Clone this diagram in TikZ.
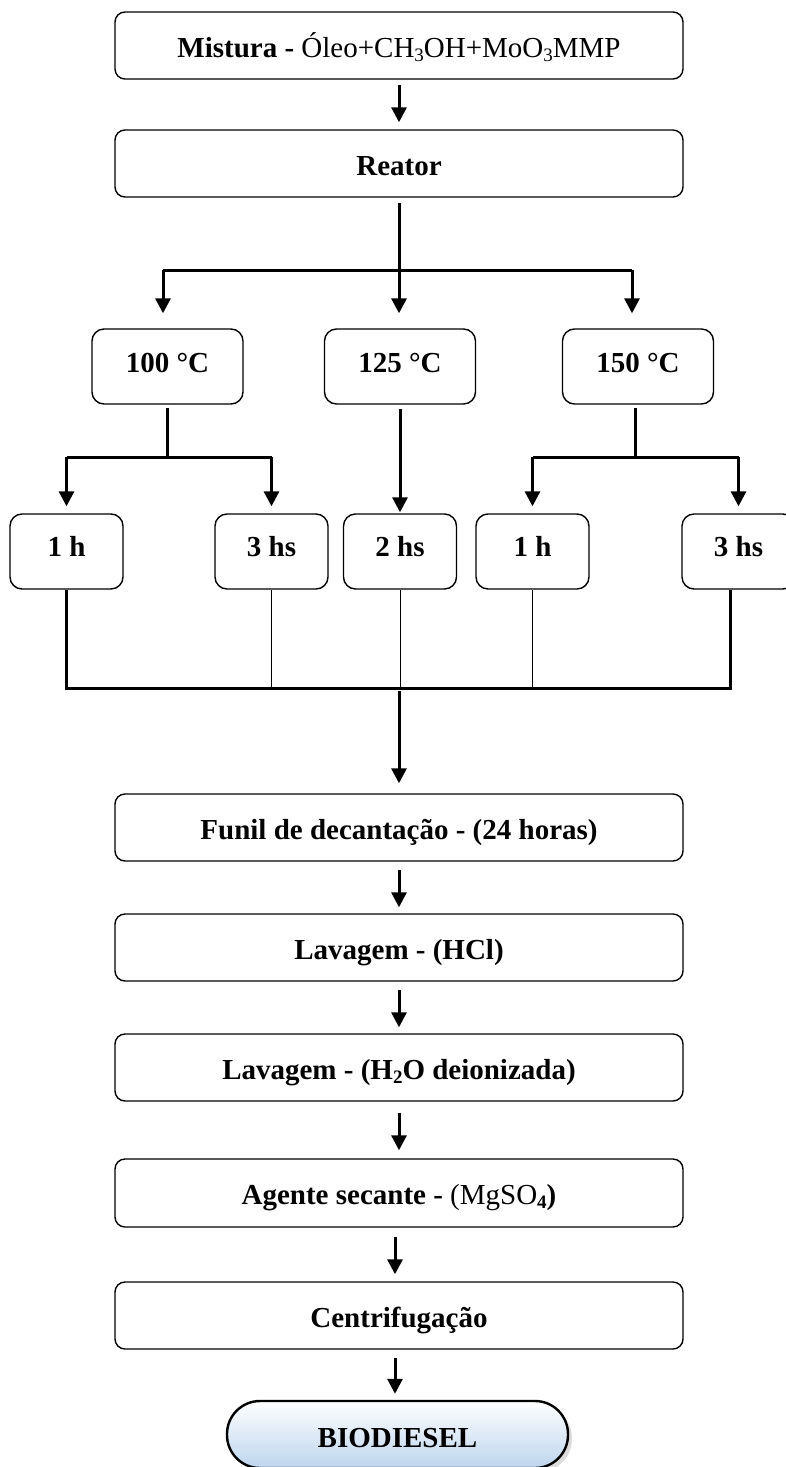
\documentclass[tikz,border=0pt]{standalone}
\usepackage{fontspec}
\setmainfont{Liberation Serif}
\usetikzlibrary{arrows.meta,shadows,calc}
\newcommand\fsz{\fontsize{29}{32}\selectfont}
\newcommand\sbs[1]{\raisebox{-4pt}{\fontsize{19}{19}\selectfont #1}}
\definecolor{biob}{HTML}{BDD5EE}
\begin{document}
\begin{tikzpicture}[x=1pt,y=-1pt,
  wide/.style={draw=black, line width=1.4pt, rounded corners=10pt, minimum width=568pt,
    minimum height=67pt, inner sep=0pt, font=\fsz, text height=24pt, text depth=1pt},
  tbox/.style={draw=black, line width=1.4pt, rounded corners=12pt, minimum width=151pt,
    minimum height=75pt, inner sep=0pt, font=\fsz\bfseries, text height=15pt, text depth=4pt},
  hbox/.style={draw=black, line width=1.4pt, rounded corners=12pt, minimum width=113pt,
    minimum height=75pt, inner sep=0pt, font=\fsz\bfseries, text height=15pt, text depth=6pt},
  conn/.style={line width=3pt},
  thinline/.style={line width=1pt},
  arr/.style={line width=3pt, -{Triangle[width=15pt,length=15pt]}}
]
\useasboundingbox (0,0) rectangle (785,1467);

% main boxes
\node[wide] (mix) at (399,45.5) {{\bfseries Mistura -} Óleo+CH\sbs{3}OH+MoO\sbs{3}MMP};
\node[wide] (reator) at (399,163.5) {\bfseries Reator};

% temperature boxes
\node[tbox] (t100) at (167.5,366.5) {100 °C};
\node[tbox] (t125) at (400,366.5) {125 °C};
\node[tbox] (t150) at (638,366.5) {150 °C};

% time boxes
\node[hbox] (h1a) at (66.5,551.5) {1 h};
\node[hbox] (h3a) at (271.5,551.5) {3 hs};
\node[hbox] (h2)  at (400,551.5) {2 hs};
\node[hbox] (h1b) at (532.5,551.5) {1 h};
\node[hbox] (h3b) at (738.5,551.5) {3 hs};

% lower boxes
\node[wide] (funil) at (399,827.5) {\bfseries Funil de decantação - (24 horas)};
\node[wide] (lav1) at (399,947.5) {\bfseries Lavagem - (HCl)};
\node[wide] (lav2) at (399,1067.5) {\bfseries Lavagem - (H\sbs{2}O deionizada)};
\node[wide, minimum height=68pt] (agente) at (399,1193) {{\bfseries Agente secante -} (MgSO{\bfseries\sbs{4})}};
\node[wide] (centr) at (399,1315.5) {\bfseries Centrifugação};

\node[draw=black, line width=2.4pt, rounded corners=33pt, minimum width=341pt, minimum height=67pt,
  inner sep=0pt, top color=white, bottom color=biob,
  drop shadow={shadow xshift=4pt, shadow yshift=-4pt, fill=gray!55},
  font=\fsz\bfseries, text height=26pt, text depth=1pt] (bio) at (397.5,1434.5) {BIODIESEL};

% coordinates of junctions
\coordinate (j0) at (399,270);
\coordinate (jL) at (163,270);
\coordinate (jR) at (632,270);
\coordinate (a1) at (167.5,457);
\coordinate (a1L) at (66.5,457);
\coordinate (a1R) at (271.5,457);
\coordinate (b1) at (635,457);
\coordinate (b1L) at (532.5,457);
\coordinate (b1R) at (738.5,457);
\coordinate (c1) at (66.5,688);
\coordinate (c3) at (399,688);
\coordinate (c5) at (730,688);

% top
\draw[arr, shorten <=5pt, shorten >=7pt] (mix.south) -- (mix.south |- reator.north);
\draw[conn, shorten <=5pt] (reator.south) -- (j0);
\draw[conn] (jL) -- (jR);
\draw[arr, shorten >=15pt] (jL) -- (jL |- t100.north);
\draw[arr, shorten >=15pt] (j0) -- (j0 |- t125.north);
\draw[arr, shorten >=15pt] (jR) -- (jR |- t150.north);

% second level
\draw[conn, shorten <=3pt] (t100.south) -- (a1);
\draw[conn] (a1L) -- (a1R);
\draw[arr, shorten >=7pt] (a1L) -- (a1L |- h1a.north);
\draw[arr, shorten >=7pt] (a1R) -- (a1R |- h3a.north);
\draw[arr, shorten <=4pt, shorten >=1pt] (t125.south) -- (t125.south |- h2.north);
\draw[conn, shorten <=3pt] (t150.south -| b1) -- (b1);
\draw[conn] (b1L) -- (b1R);
\draw[arr, shorten >=7pt] (b1L) -- (b1L |- h1b.north);
\draw[arr, shorten >=7pt] (b1R) -- (b1R |- h3b.north);

% collecting lines
\draw[conn] (h1a.south) -- (c1) -- (c5) -- (c5 |- h3b.south);
\draw[thinline] (h3a.south) -- (h3a.south |- c1);
\draw[thinline] (h2.south) -- (h2.south |- c1);
\draw[thinline] (h1b.south) -- (h1b.south |- c1);
\draw[arr, shorten >=10pt] ([yshift=-3pt]c3) -- (c3 |- funil.north);

% lower chain
\draw[arr, shorten <=8pt, shorten >=6pt] (funil.south) -- (funil.south |- lav1.north);
\draw[arr, shorten <=8pt, shorten >=6pt] (lav1.south) -- (lav1.south |- lav2.north);
\draw[arr, shorten <=11pt, shorten >=8pt] (lav2.south) -- (lav2.south |- agente.north);
\draw[arr, shorten <=9pt, shorten >=7pt] ([xshift=-4pt]agente.south) -- ([xshift=-4pt]agente.south |- centr.north);
\draw[arr, shorten <=8pt, shorten >=6pt] ([xshift=-4pt]centr.south) -- ([xshift=-4pt]centr.south |- bio.north);
\end{tikzpicture}
\end{document}
